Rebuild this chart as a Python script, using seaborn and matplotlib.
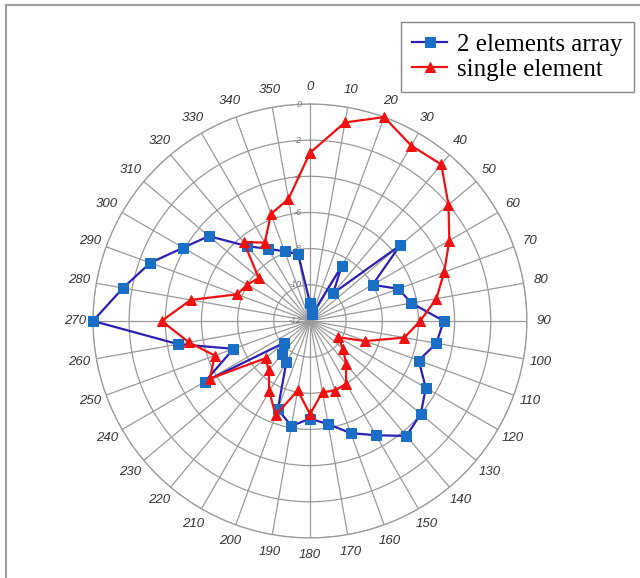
import numpy as np
import matplotlib
matplotlib.use("Agg")
import matplotlib.pyplot as plt
import matplotlib.transforms as mtransforms
from matplotlib.lines import Line2D
import seaborn as sns

# angles in degrees (0 at top, clockwise)
angles = list(range(0, 360, 10))

# 2 elements array (dB)
array_db = [-11.0, -11.4, -11.6, -8.5, -10.0, -5.5, -8.0, -6.8, -6.3, -4.6,
            -4.9, -5.6, -4.6, -4.0, -3.7, -4.7, -5.4, -6.2, -6.6, -6.1,
            -6.8, -9.4, -9.6, -10.1, -5.3, -7.5, -4.6, 0.0, -1.5, -2.6,
            -3.9, -4.7, -6.6, -7.4, -7.9, -8.25]

# single element (dB)
single_db = [-2.7, -0.85, 0.0, -0.8, -0.7, -2.0, -3.1, -4.1, -4.9, -5.9,
             -6.7, -8.75, -10.2, -9.6, -8.9, -8.0, -7.9, -8.0, -6.85, -8.1,
             -6.45, -7.5, -8.45, -8.8, -5.6, -6.4, -5.2, -3.8, -5.3, -7.7,
             -8.0, -8.3, -6.3, -7.0, -5.7, -5.15]

r_ticks = [0, -2, -4, -6, -8, -10, -12]

plt.rcParams['font.family'] = ['Liberation Sans', 'DejaVu Sans']

fig = plt.figure(figsize=(6.4, 5.78), dpi=100)
ax = fig.add_axes([0.1453, 0.0692, 0.678, 0.751], projection='polar')
ax.set_theta_zero_location('N')
ax.set_theta_direction(-1)

# close the loops
th = np.deg2rad(angles + [360])
arr = array_db + [array_db[0]]
sgl = single_db + [single_db[0]]

sns.lineplot(x=th, y=arr, ax=ax, sort=False, color='#2b1fb5', lw=1.6,
             marker='s', markersize=6.5, markerfacecolor='#1a6fc4',
             markeredgecolor='#1a6fc4', label='2 elements array', clip_on=False,
             zorder=4)
sns.lineplot(x=th, y=sgl, ax=ax, sort=False, color='#f01010', lw=1.6,
             marker='^', markersize=6.5, markerfacecolor='#f01010',
             markeredgecolor='#f01010', label='single element', clip_on=False,
             zorder=5)

ax.set_ylim(-12, 0)
ax.set_yticks(r_ticks)
ax.set_yticklabels([])
ax.set_xticks(np.deg2rad(angles))
ax.set_xticklabels([str(a) for a in angles], fontstyle='italic',
                   fontsize=9.5, color='#333333')
ax.tick_params(axis='x', pad=2)
ax.grid(True, color='#9a9a9a', lw=0.9)
ax.spines['polar'].set_color('#9a9a9a')
ax.spines['polar'].set_linewidth(0.9)
ax.set_xlabel('')
ax.set_ylabel('')

# radial labels just left of the 0 deg line
off = mtransforms.offset_copy(ax.transData, fig=fig, x=-6, y=0, units='points')
for r in r_ticks:
    ax.text(0, r, str(r), transform=off, ha='right', va='center',
            fontsize=6.5, color='#777777', fontstyle='italic')

ax.get_legend().remove()
handles, labels = ax.get_legend_handles_labels()
fig.legend(handles, labels, loc='upper right', bbox_to_anchor=(0.991, 0.962),
           prop={'family': 'Liberation Serif', 'size': 18}, handlelength=1.4,
           handletextpad=0.4, borderpad=0.45, labelspacing=0.1,
           borderaxespad=0, frameon=True, fancybox=False,
           edgecolor='#888888', framealpha=1)

# outer frame lines (top and left)
fig.add_artist(Line2D([6 / 640, 1], [1 - 5 / 578, 1 - 5 / 578],
                      transform=fig.transFigure, color='#a0a0a0', lw=1.5))
fig.add_artist(Line2D([6 / 640, 6 / 640], [0, 1 - 5 / 578],
                      transform=fig.transFigure, color='#a0a0a0', lw=1.5))

fig.savefig('out.png', dpi=100)
